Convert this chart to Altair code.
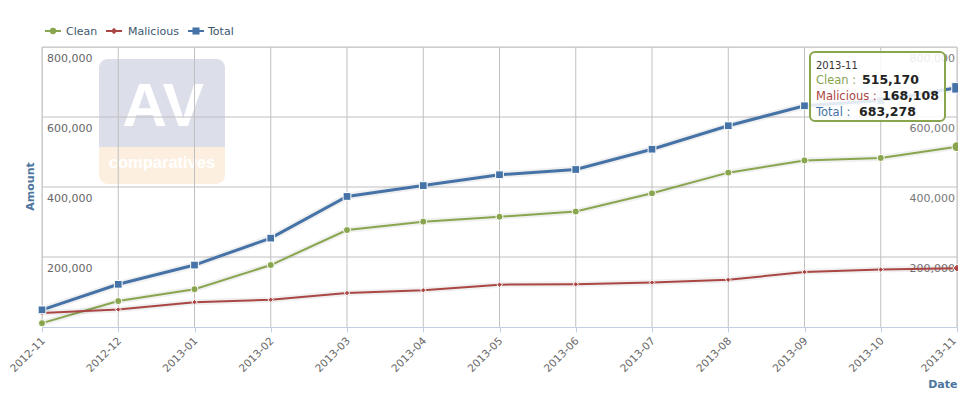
import altair as alt
import pandas as pd

# ---------------- data ----------------
dates = ["2012-11", "2012-12", "2013-01", "2013-02", "2013-03", "2013-04", "2013-05",
         "2013-06", "2013-07", "2013-08", "2013-09", "2013-10", "2013-11"]
clean = [11000, 74000, 108000, 177000, 277000, 301000, 315000, 330000, 382000,
         441000, 476000, 483000, 515170]
malicious = [40000, 50000, 71000, 78000, 97000, 105000, 121000, 122000, 127000,
             135000, 157000, 164000, 168108]
total = [49000, 122000, 177000, 254000, 373000, 404000, 435000, 450000, 508000,
         575000, 632000, 647000, 683278]
series_names = ["Clean", "Malicious", "Total"]
series_colors = ["#89A54E", "#AA4643", "#4572A7"]
y_ticks = [200000, 400000, 600000, 800000]
tooltip_date = "2013-11"

df = pd.DataFrame({
    "date": dates * 3,
    "series": ["Clean"] * len(dates) + ["Malicious"] * len(dates) + ["Total"] * len(dates),
    "value": clean + malicious + total,
})
ticks_df = pd.DataFrame({"tick": y_ticks})
dates_df = pd.DataFrame({"date": dates})
dummy = pd.DataFrame({"k": [0]})

W, H = 915, 280
FONT = "DejaVu Sans"
yscale = alt.Scale(domain=[0, 800000], nice=False, zero=True)
xscale = alt.Scale(type="point", padding=0, domain=dates)

x_axis = alt.Axis(
    title="Date", labelAngle=-45, labelAlign="right", labelBaseline="middle",
    labelPadding=7,
    labelOffset={"condition": {"test": f"datum.value == '{dates[-1]}'", "value": -3}, "value": 1},
    labelFontSize=10.5, labelColor="#666666", labelFont=FONT,
    labelOverlap=False, tickSize=5, tickColor="#C0D0E0", domainColor="#C0D0E0",
    grid=False, titleX=W, titleY=60, titleAlign="right", titleBaseline="alphabetic",
    titleFontSize=11, titleFontWeight="bold", titleColor="#4D759E", titleFont=FONT,
)
y_axis = alt.Axis(
    title="Amount", labels=False, ticks=False, domain=False, grid=False,
    titleX=-12, titleY=139, titleAngle=270, titleAlign="center", titleBaseline="middle",
    titleFontSize=11, titleFontWeight="bold", titleColor="#4D759E", titleFont=FONT,
)

X = alt.X("date:O", scale=xscale, axis=x_axis)
Y = alt.Y("value:Q", scale=yscale, axis=y_axis)
YT = alt.Y("tick:Q", scale=yscale, axis=y_axis)

layers = []

# ---------------- watermark ----------------
layers.append(alt.Chart(dummy).mark_rect(fill="#FCEFDF", cornerRadius=9).encode(
    x=alt.value(57), x2=alt.value(183), y=alt.value(12), y2=alt.value(137)))
layers.append(alt.Chart(dummy).mark_rect(fill="#DCDEE9", cornerRadiusTopLeft=9,
                                         cornerRadiusTopRight=9).encode(
    x=alt.value(57), x2=alt.value(183), y=alt.value(12), y2=alt.value(100)))
layers.append(alt.Chart(dummy).mark_text(text="AV", font="Liberation Sans", fontWeight="bold",
                                         fontSize=62, color="white", align="center",
                                         baseline="alphabetic").encode(
    x=alt.value(121), y=alt.value(79)))
layers.append(alt.Chart(dummy).mark_text(text="comparatives", font="Liberation Sans",
                                         fontWeight="bold", fontSize=16.5, color="white",
                                         align="center", baseline="alphabetic").encode(
    x=alt.value(120), y=alt.value(121)))

# ---------------- grid + axes ----------------
layers.append(alt.Chart(dates_df).mark_rule(color="#C0C0C0", strokeWidth=1).encode(
    x=X, y=alt.value(0), y2=alt.value(H)))
layers.append(alt.Chart(ticks_df).mark_rule(color="#C0C0C0", strokeWidth=1).encode(
    y=YT, x=alt.value(0), x2=alt.value(W)))

# y labels inside plot, both sides
layers.append(alt.Chart(ticks_df).mark_text(align="left", baseline="alphabetic", dy=15,
                                            fontSize=11, font=FONT, color="#666666").encode(
    y=YT, x=alt.value(5), text=alt.Text("tick:Q", format=",")))
layers.append(alt.Chart(ticks_df).mark_text(align="right", baseline="alphabetic", dy=15,
                                            fontSize=11, font=FONT, color="#777777").encode(
    y=YT, x=alt.value(W - 2), text=alt.Text("tick:Q", format=",")))

# ---------------- series ----------------
styles = {
    "Clean": dict(width=2, shape="circle", size=50, hover=100),
    "Malicious": dict(width=2, shape="diamond", size=30, hover=64),
    "Total": dict(width=3, shape="square", size=60, hover=110),
}
for name, col in zip(series_names, series_colors):
    st = styles[name]
    base = alt.Chart(df).transform_filter(alt.datum.series == name)
    layers.append(base.mark_line(color="black", opacity=0.06, strokeWidth=st["width"] + 4)
                  .encode(x=X, y=Y))
    layers.append(base.mark_line(color=col, strokeWidth=st["width"]).encode(x=X, y=Y))
    layers.append(base.mark_point(shape=st["shape"], filled=True, fill=col, stroke="white",
                                  strokeWidth=1, size=st["size"], opacity=1)
                  .encode(x=X, y=Y))
    layers.append(base.transform_filter(alt.datum.date == tooltip_date)
                  .mark_point(shape=st["shape"], filled=True, fill=col, stroke="white",
                              strokeWidth=1, size=st["hover"], opacity=1)
                  .encode(x=X, y=Y))

# ---------------- legend ----------------
leg = [("Clean", "#89A54E", "circle", 40, 3, 24),
       ("Malicious", "#AA4643", "diamond", 40, 64, 86),
       ("Total", "#4572A7", "square", 50, 146, 166)]
for name, col, shape, size, x0, tx in leg:
    layers.append(alt.Chart(dummy).mark_rule(color=col, strokeWidth=2).encode(
        x=alt.value(x0), x2=alt.value(x0 + 16), y=alt.value(-16)))
    layers.append(alt.Chart(dummy).mark_point(shape=shape, filled=True, fill=col,
                                              size=size, opacity=1).encode(
        x=alt.value(x0 + 8), y=alt.value(-16)))
    layers.append(alt.Chart(dummy).mark_text(text=name, align="left", baseline="alphabetic",
                                             fontSize=11, font=FONT, color="#3E576F").encode(
        x=alt.value(tx), y=alt.value(-12)))

# ---------------- tooltip ----------------
layers.append(alt.Chart(dummy).mark_rect(fill="white", fillOpacity=0.85, stroke="#89A54E",
                                         strokeWidth=2, cornerRadius=5).encode(
    x=alt.value(768), x2=alt.value(903), y=alt.value(5), y2=alt.value(74)))
layers.append(alt.Chart(dummy).mark_text(text=tooltip_date, align="left", baseline="alphabetic",
                                         fontSize=10, font=FONT, color="#333333").encode(
    x=alt.value(774), y=alt.value(22)))
tip_rows = [("Clean : ", "#89A54E", 37, 820, clean[-1]),
            ("Malicious : ", "#AA4643", 53, 840, malicious[-1]),
            ("Total : ", "#4572A7", 69, 817, total[-1])]
for lab, col, yy, vx, val in tip_rows:
    layers.append(alt.Chart(dummy).mark_text(text=lab, align="left", baseline="alphabetic",
                                             fontSize=11.5, font=FONT, color=col).encode(
        x=alt.value(774), y=alt.value(yy)))
    layers.append(alt.Chart(dummy).mark_text(text=f"{val:,}", align="left",
                                             baseline="alphabetic", fontSize=12.5, font=FONT,
                                             fontWeight="bold", color="#222222").encode(
        x=alt.value(vx), y=alt.value(yy)))

chart = alt.layer(*layers).properties(
    width=W, height=H,
    autosize=alt.AutoSizeParams(type="none"),
    padding={"left": 34, "top": 39, "right": 1, "bottom": 62},
).configure_view(stroke=None).configure(font=FONT)

chart.save("out.html", embed_options={"renderer": "svg", "actions": False})
